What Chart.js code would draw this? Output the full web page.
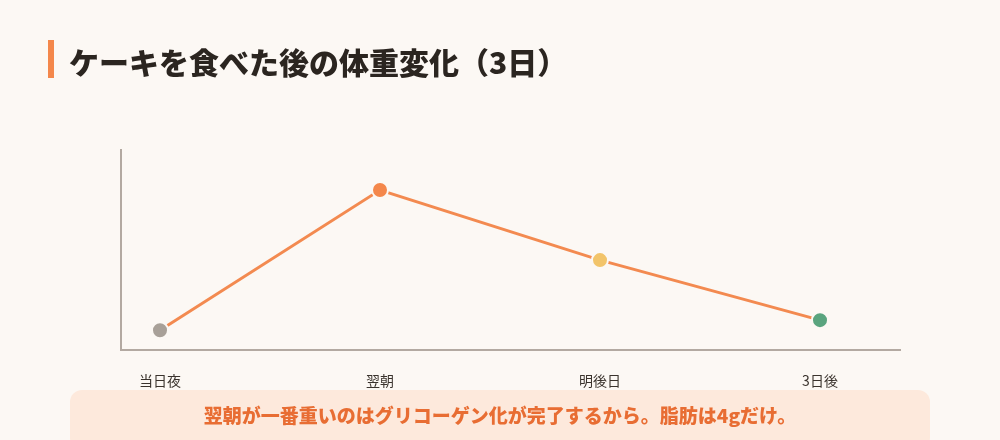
<!DOCTYPE html>
<html lang="ja">
<head>
<meta charset="utf-8">
<script src="https://cdn.jsdelivr.net/npm/chart.js@4"></script>
<style>
  html, body { margin:0; padding:0; background:#fcf8f4; }
  body { width:1000px; height:440px; position:relative; overflow:hidden; font-family:"Noto Sans CJK JP","Noto Sans",sans-serif; }
  #wrap { position:absolute; left:0; top:0; width:1000px; height:440px; }
  .bar { position:absolute; left:48px; top:40px; width:6px; height:38px; background:#f4874b; }
  h1 { position:absolute; left:69px; top:40px; margin:0; font-size:30px; line-height:42px; font-weight:900; color:#2b2520; letter-spacing:0; }
  .note { position:absolute; left:70px; top:390px; width:860px; height:60px; background:#fde9dc; border-radius:12px; }
  .note p { margin:0; position:absolute; left:0; right:0; top:12px; text-align:center; font-size:19px; font-weight:900; color:#e86d33; line-height:26px; }
</style>
</head>
<body>
<div id="wrap"><canvas id="c" width="1000" height="440"></canvas></div>
<div class="bar"></div>
<h1>ケーキを食べた後の体重変化（3日）</h1>
<div class="note"><p>翌朝が一番重いのはグリコーゲン化が完了するから。脂肪は4gだけ。</p></div>
<script>
const categories = ["当日夜", "翌朝", "明後日", "3日後"];
const weightValues = [0.1, 0.8, 0.45, 0.15];
const pointColors = ["#a8a098", "#f4874b", "#f2c46a", "#5aa47e"];

const points = weightValues.map((v, i) => ({ x: i, y: v }));

new Chart(document.getElementById('c'), {
  type: 'line',
  data: {
    datasets: [{
      data: points,
      borderColor: '#f38a50',
      borderWidth: 3,
      tension: 0,
      pointRadius: 8,
      pointHoverRadius: 8,
      pointBackgroundColor: pointColors,
      pointBorderColor: '#fcf8f4',
      pointBorderWidth: 2,
      clip: false
    }]
  },
  options: {
    responsive: false,
    animation: false,
    events: [],
    layout: { padding: { left: 121, right: 100, top: 150, bottom: 29 } },
    plugins: { legend: { display: false }, tooltip: { enabled: false } },
    scales: {
      x: {
        type: 'linear',
        min: -39 / 220,
        max: 740 / 220,
        afterBuildTicks: (s) => { s.ticks = categories.map((_, i) => ({ value: i })); },
        ticks: {
          padding: 22,
          color: '#3a332d',
          font: { family: '"Noto Sans CJK JP"', size: 14 },
          callback: (v) => categories[v],
          maxRotation: 0,
          autoSkip: false
        },
        grid: { display: false, drawTicks: false },
        border: { display: true, color: '#b3a9a1', width: 2 }
      },
      y: {
        min: 0,
        max: 1,
        ticks: { display: false },
        grid: { display: false, drawTicks: false },
        border: { display: true, color: '#b3a9a1', width: 2 }
      }
    }
  }
});
</script>
</body>
</html>
